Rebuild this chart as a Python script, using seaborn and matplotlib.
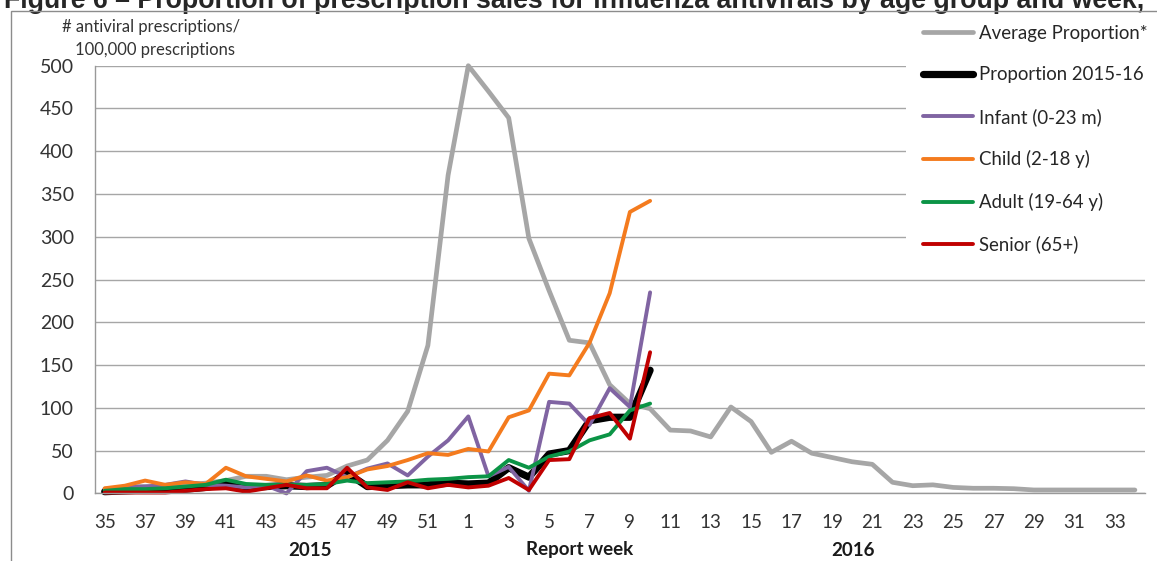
import seaborn as sns
import matplotlib.pyplot as plt
import matplotlib.ticker as mtick
from matplotlib.patches import Rectangle
import pandas as pd

# weeks 35..52 of 2015, then 1..34 of 2016
weeks = list(range(35, 53)) + list(range(1, 35))

avg_prop = [5, 7, 8, 8, 10, 12, 15, 20, 20, 16, 19, 21, 32, 39, 62, 96, 173, 372,
            500, 470, 439, 298, 237, 179, 176, 127, 105, 99, 74, 73, 66, 101, 84, 48,
            61, 47, 42, 37, 34, 13, 9, 10, 7, 6, 6, 5.5, 4, 4, 4, 4, 4, 4]
prop_1516 = [2, 3, 4, 4, 5, 7, 11, 7, 8, 9, 8, 9, 24, 8, 9, 10, 10, 12,
             11, 12, 30, 19, 46, 50, 85, 89, 89, 144]
infant = [4, 8, 8, 10, 14, 10, 9, 7, 9, 0, 26, 30, 19, 29, 35, 21, 43, 62,
          90, 20, 31, 3, 107, 105, 80, 123, 101, 235]
child = [6, 9, 15, 10, 13, 11, 30, 20, 17, 14, 21, 15, 19, 28, 32, 39, 47, 45,
         52, 49, 89, 97, 140, 138, 176, 234, 329, 342]
adult = [3, 5, 5, 6, 8, 10, 16, 11, 10, 10, 10, 11, 15, 12, 13, 14, 16, 17,
         19, 20, 39, 30, 43, 49, 62, 69, 97, 105]
senior = [1, 1, 1, 1, 3, 5, 6, 2, 6, 10, 6, 6, 30, 7, 4, 13, 6, 10,
          7, 9, 18, 4, 39, 40, 88, 94, 64, 165]

series = [('Average Proportion*', avg_prop, '#A6A6A6', 3.4),
          ('Proportion 2015-16', prop_1516, '#000000', 5.2),
          ('Infant (0-23 m)', infant, '#8064A2', 2.8),
          ('Child (2-18 y)', child, '#F47B1E', 2.8),
          ('Adult (19-64 y)', adult, '#0B9446', 2.8),
          ('Senior (65+)', senior, '#C00000', 2.8)]

sns.set_style('white')
plt.rcParams['font.family'] = ['Lato', 'DejaVu Sans']

W, H = 1157, 561
fig = plt.figure(figsize=(W / 100, H / 100), dpi=100)
ax = fig.add_axes([94.6 / W, 67.6 / H, 1050.4 / W, 427.7 / H])

for name, vals, col, lw in series:
    df = pd.DataFrame({'pos': range(len(vals)), 'value': vals})
    sns.lineplot(data=df, x='pos', y='value', color=col, lw=lw, label=name, ax=ax,
                 clip_on=False, solid_joinstyle='round', solid_capstyle='round')

ax.set_xlim(-0.5, len(weeks) - 0.5)
ax.set_ylim(0, 500)
ax.set_xlabel('')
ax.set_ylabel('')

# x axis: labels every other week, tick marks at category boundaries
ax.set_xticks(range(0, len(weeks), 2))
ax.set_xticklabels([str(w) for w in weeks[::2]], fontsize=13.5, color='#333333')
ax.xaxis.set_minor_locator(mtick.FixedLocator([i - 0.5 for i in range(len(weeks) + 1)]))
ax.tick_params(axis='x', which='major', length=0, pad=15)
ax.tick_params(axis='x', which='minor', length=5, width=1, color='#999999', direction='out')

ax.yaxis.set_major_locator(mtick.MultipleLocator(50))
ax.tick_params(axis='y', length=4, width=1, color='#999999', direction='out',
               labelsize=14, labelcolor='#333333', pad=11)
ax.grid(axis='y', color='#A6A6A6', lw=1)
ax.set_axisbelow(True)
for s in ['top', 'right']:
    ax.spines[s].set_visible(False)
for s in ['left', 'bottom']:
    ax.spines[s].set_color('#999999')
    ax.spines[s].set_linewidth(1)

top = 1 - 8 / H
ax.legend(loc='upper left', bbox_to_anchor=(906 / W, 0.4, (W + 5 - 906) / W, top - 0.4),
          bbox_transform=fig.transFigure, mode='expand', frameon=True, facecolor='white',
          edgecolor='none', framealpha=1, fancybox=False, fontsize=13.4,
          handlelength=2.7, handletextpad=0.32, labelspacing=1.32, borderpad=0.9,
          borderaxespad=0)

# axis titles
fig.text(62 / W, 1 - 27 / H, '# antiviral prescriptions/', fontsize=12,
         va='center', ha='left', color='#333333')
fig.text(75 / W, 1 - 50 / H, '100,000 prescriptions', fontsize=12,
         va='center', ha='left', color='#333333')
fig.text(310 / W, 1 - 550 / H, '2015', fontsize=13.5, fontweight='bold',
         ha='center', va='center', color='#1a1a1a')
fig.text(580 / W, 1 - 550 / H, 'Report week', fontsize=13.5, fontweight='bold',
         ha='center', va='center', color='#1a1a1a')
fig.text(853 / W, 1 - 550 / H, '2016', fontsize=13.5, fontweight='bold',
         ha='center', va='center', color='#1a1a1a')

# title, cut off by the top edge as in the source
title = fig.text(4 / W, 1 - 8 / H,
                 'Figure 6 \u2013 Proportion of prescription sales for influenza antivirals by age group and week,',
                 fontsize=15, fontweight='bold', family='Liberation Sans', ha='left', va='baseline')
r = fig.canvas.get_renderer()
tw = title.get_window_extent(renderer=r).width
title.set_fontsize(15 * 1146 / tw)

# chart frame
fig.patches.append(Rectangle((11 / W, -0.01), 1.0, 1 - 11 / H + 0.01, fill=False,
                             edgecolor='#8c8c8c', lw=1, transform=fig.transFigure, zorder=10))

fig.savefig('out.png', dpi=100)
